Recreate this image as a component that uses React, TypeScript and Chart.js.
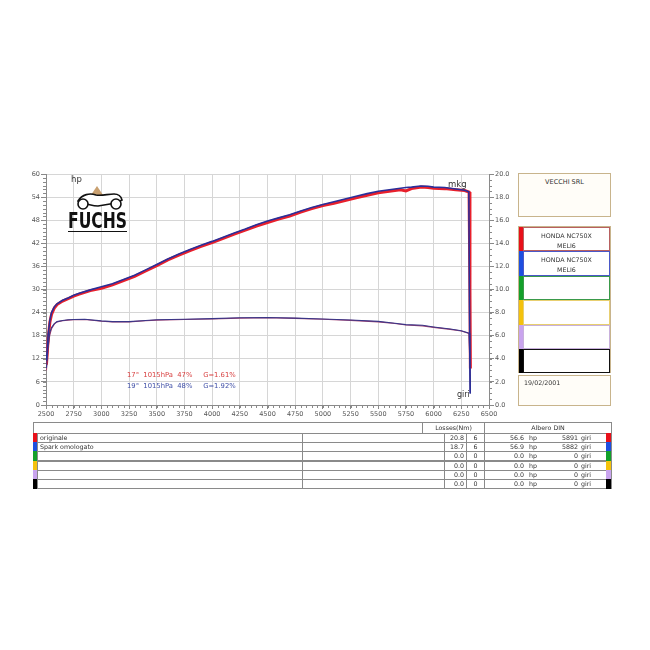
import React, { useEffect, useRef } from "react";
import { Chart, registerables } from "chart.js";

Chart.register(...registerables);

// ---------- DATA ----------
const rpmRed = [2504, 2510, 2520, 2535, 2550, 2575, 2600, 2650, 2700, 2750, 2800, 2900, 3000, 3100, 3200, 3300, 3400, 3500, 3600, 3700, 3800, 3900, 4000, 4100, 4200, 4300, 4400, 4500, 4600, 4700, 4800, 4900, 5000, 5100, 5200, 5300, 5400, 5500, 5600, 5700, 5750, 5800, 5891, 5950, 6000, 6100, 6200, 6280, 6320, 6328, 6332];
const hpRed = [10.5, 13.0, 17.5, 21.5, 23.5, 25.2, 26.1, 27.0, 27.6, 28.3, 28.8, 29.7, 30.3, 31.2, 32.3, 33.4, 34.8, 36.2, 37.7, 38.9, 40.1, 41.2, 42.2, 43.3, 44.4, 45.4, 46.5, 47.4, 48.3, 49.1, 50.1, 51.0, 51.8, 52.4, 53.1, 53.8, 54.5, 55.1, 55.5, 55.9, 55.6, 56.2, 56.6, 56.5, 56.3, 56.2, 55.9, 55.7, 55.3, 30.0, 9.5];

const rpmBlue = [2504, 2510, 2520, 2535, 2550, 2575, 2600, 2650, 2700, 2750, 2800, 2900, 3000, 3100, 3200, 3300, 3400, 3500, 3600, 3700, 3800, 3900, 4000, 4100, 4200, 4300, 4400, 4500, 4600, 4700, 4800, 4900, 5000, 5100, 5200, 5300, 5400, 5500, 5600, 5700, 5750, 5800, 5882, 5950, 6000, 6100, 6200, 6280, 6318, 6324, 6330];
const hpBlue = [11.5, 14.0, 18.5, 22.0, 24.0, 25.5, 26.3, 27.2, 27.8, 28.5, 29.0, 29.9, 30.7, 31.5, 32.6, 33.7, 35.1, 36.5, 37.9, 39.2, 40.4, 41.5, 42.5, 43.6, 44.7, 45.7, 46.8, 47.8, 48.6, 49.4, 50.4, 51.3, 52.1, 52.8, 53.5, 54.2, 54.9, 55.5, 55.9, 56.3, 56.5, 56.6, 56.9, 56.8, 56.6, 56.5, 56.1, 55.8, 55.4, 25.0, 3.0];

const rpmTorque = [2504, 2520, 2535, 2550, 2575, 2600, 2650, 2700, 2750, 2850, 3000, 3100, 3250, 3400, 3500, 3750, 4000, 4250, 4500, 4750, 5000, 5250, 5500, 5650, 5750, 5900, 6000, 6150, 6250, 6320, 6328, 6332];
const mkgRed = [3.0, 5.0, 6.1, 6.6, 7.0, 7.2, 7.3, 7.35, 7.38, 7.4, 7.25, 7.2, 7.2, 7.3, 7.35, 7.4, 7.45, 7.52, 7.55, 7.5, 7.42, 7.33, 7.2, 7.05, 6.92, 6.85, 6.72, 6.55, 6.4, 6.2, 3.5, 1.2];
const mkgBlue = [3.2, 5.2, 6.3, 6.7, 7.05, 7.22, 7.32, 7.38, 7.4, 7.42, 7.28, 7.22, 7.22, 7.32, 7.38, 7.43, 7.48, 7.55, 7.57, 7.52, 7.45, 7.36, 7.24, 7.08, 6.96, 6.9, 6.76, 6.58, 6.43, 6.22, 3.0, 1.0];

const xMin = 2500;
const xMax = 6500;
const xStep = 250;
const hpMax = 60;
const hpStep = 6;
const mkgMax = 20;
const mkgStep = 2;

const conditionRed = "17°  1015hPa  47%     G=1.61%";
const conditionBlue = "19°  1015hPa  48%     G=1.92%";

const companyName = "VECCHI SRL";
const testDate = "19/02/2001";
const panelLine1 = ["HONDA NC750X", "HONDA NC750X", "", "", "", ""];
const panelLine2 = ["MELI6", "MELI6", "", "", "", ""];

const runColors = ["#e8101a", "#1e4fe0", "#13a02a", "#f4c20d", "#c9a4ee", "#000000"];
const panelBorders = ["#b86060", "#4a58c8", "#3a9a4a", "#e8cf70", "#c8b0dc", "#111111"];
const runNames = ["originale", "Spark omologato", "", "", "", ""];
const lossNm = ["20.8", "18.7", "0.0", "0.0", "0.0", "0.0"];
const lossN = ["6", "6", "0", "0", "0", "0"];
const peakHp = ["56.6", "56.9", "0.0", "0.0", "0.0", "0.0"];
const peakRpm = ["5891", "5882", "0", "0", "0", "0"];

const FONT = "'DejaVu Sans', Verdana, sans-serif";

const minorTicks = {
  id: "minorTicks",
  afterDraw(chart: any) {
    const { ctx, chartArea, scales } = chart;
    ctx.save();
    ctx.strokeStyle = "#8a8a8a";
    ctx.lineWidth = 1;
    ctx.beginPath();
    for (let v = xMin; v <= xMax; v += 50) {
      const px = Math.round(scales.x.getPixelForValue(v)) + 0.5;
      ctx.moveTo(px, chartArea.bottom);
      ctx.lineTo(px, chartArea.bottom + 3);
    }
    for (let v = 0; v <= hpMax; v += 1) {
      const py = Math.round(scales.y.getPixelForValue(v)) + 0.5;
      ctx.moveTo(chartArea.left - 3, py);
      ctx.lineTo(chartArea.left, py);
    }
    for (let v = 0; v <= mkgMax; v += 0.5) {
      const py = Math.round(scales.y2.getPixelForValue(v)) + 0.5;
      ctx.moveTo(chartArea.right, py);
      ctx.lineTo(chartArea.right + 3, py);
    }
    ctx.stroke();
    ctx.restore();
  },
};

function toPts(xs: number[], ys: number[]) {
  return xs.map((x, i) => ({ x, y: ys[i] }));
}

function DynoChart() {
  const ref = useRef<HTMLCanvasElement | null>(null);
  useEffect(() => {
    if (!ref.current) return;
    const tickFont = { family: FONT, size: 6.5 };
    const chart = new Chart(ref.current, {
      type: "line",
      data: {
        datasets: [
          {
            data: toPts(rpmBlue, hpBlue),
            borderColor: "#2a2f9a",
            borderWidth: 1.6,
            yAxisID: "y",
            order: 0,
          },
          {
            data: toPts(rpmRed, hpRed),
            borderColor: "#e8202c",
            borderWidth: 3,
            yAxisID: "y",
            order: 2,
          },
          {
            data: toPts(rpmTorque, mkgBlue),
            borderColor: "#3a3688",
            borderWidth: 1.1,
            yAxisID: "y2",
            order: 1,
          },
          {
            data: toPts(rpmTorque, mkgRed),
            borderColor: "#a04070",
            borderWidth: 1.1,
            yAxisID: "y2",
            order: 3,
          },
        ],
      },
      options: {
        animation: false,
        responsive: false,
        maintainAspectRatio: false,
        parsing: true,
        elements: { point: { radius: 0 }, line: { tension: 0 } },
        layout: { padding: { left: 26, right: 131, top: 174, bottom: 227 } },
        plugins: { legend: { display: false }, tooltip: { enabled: false } },
        scales: {
          x: {
            type: "linear",
            min: xMin,
            max: xMax,
            afterFit: (s: any) => { s.height = 18; },
            ticks: { stepSize: xStep, font: tickFont, color: "#555", maxRotation: 0, padding: 1, autoSkip: false, callback: (v: any) => String(v) },
            grid: { color: "#d6d6d6", tickLength: 4, tickColor: "#888" },
            border: { color: "#8a8a8a" },
          },
          y: {
            type: "linear",
            position: "left",
            min: 0,
            max: hpMax,
            afterFit: (s: any) => { s.width = 20; },
            ticks: { stepSize: hpStep, font: tickFont, color: "#555", padding: 1 },
            grid: { color: "#d6d6d6", tickLength: 5, tickColor: "#888" },
            border: { color: "#8a8a8a" },
          },
          y2: {
            type: "linear",
            position: "right",
            min: 0,
            max: mkgMax,
            afterFit: (s: any) => { s.width = 30; },
            ticks: { stepSize: mkgStep, font: tickFont, color: "#555", padding: 1, callback: (v: any) => Number(v).toFixed(1) },
            grid: { drawOnChartArea: false, tickLength: 5, tickColor: "#888" },
            border: { color: "#8a8a8a" },
          },
        },
      },
      plugins: [minorTicks],
    } as any);
    return () => chart.destroy();
  }, []);
  return <canvas ref={ref} width={650} height={650} style={{ position: "absolute", left: 0, top: 0, width: 650, height: 650 }} />;
}

const abs = (l: number, t: number, w: number, h: number, extra: React.CSSProperties = {}): React.CSSProperties => ({
  position: "absolute", left: l, top: t, width: w, height: h, boxSizing: "border-box", ...extra,
});

function Logo() {
  return (
    <svg style={{ position: "absolute", left: 64, top: 182, width: 70, height: 54 }} viewBox="0 0 70 54">
      <path d="M27 13 L33 4 L39 13 Z" fill="#c9a070" />
      <path d="M14 19 C18 12 26 11 32 13 C38 14 44 12 50 12 C54 12 57 14 58 18 L52 21 C46 22 40 23 34 24 C28 24 22 22 14 19 Z" fill="#fff" stroke="#111" strokeWidth="1.6" />
      <circle cx="19" cy="22" r="5" fill="#fff" stroke="#111" strokeWidth="1.6" />
      <circle cx="52" cy="22" r="5" fill="#fff" stroke="#111" strokeWidth="1.6" />
      <text x="4" y="46" fontFamily="'Liberation Sans Narrow', 'DejaVu Sans Condensed', 'Liberation Sans', sans-serif" fontWeight="bold" fontSize="22" fill="#111" textLength="59" lengthAdjust="spacingAndGlyphs">FUCHS</text>
      <line x1="4" y1="49.5" x2="63" y2="49.5" stroke="#111" strokeWidth="1.2" />
    </svg>
  );
}

function RightPanel() {
  const rowH = 24.4;
  const top = 226;
  return (
    <>
      <div style={abs(518, 173, 93, 44, { border: "1px solid #c8b48c", background: "#fffdf8" })}>
        <div style={{ textAlign: "center", fontSize: 6.5, color: "#333", marginTop: 4 }}>{companyName}</div>
      </div>
      <div style={abs(518, top, 93, 147, { border: "1px solid #c8b48c", background: "#fff" })} />
      {runColors.map((c, i) => (
        <React.Fragment key={i}>
          <div style={abs(519, top + 1 + i * rowH, 5, rowH, { background: c })} />
          <div style={abs(523, top + 1 + i * rowH, 87, rowH, { border: `1.5px solid ${panelBorders[i]}` })}>
            <div style={{ textAlign: "center", fontSize: 6.3, color: "#333", marginTop: 2, lineHeight: "11px" }}>{panelLine1[i]}</div>
            <div style={{ textAlign: "center", fontSize: 6.3, color: "#333", lineHeight: "9px" }}>{panelLine2[i]}</div>
          </div>
        </React.Fragment>
      ))}
      <div style={abs(518, 375, 93, 31, { border: "1px solid #c8b48c", background: "#fffdf8" })}>
        <div style={{ fontSize: 6.3, color: "#333", marginLeft: 5, marginTop: 3 }}>{testDate}</div>
      </div>
    </>
  );
}

function Table() {
  const top = 433;
  const rh = 9.17;
  const line = "1px solid #8a8a8a";
  const txt: React.CSSProperties = { fontSize: 6.3, color: "#333", lineHeight: `${rh}px`, whiteSpace: "nowrap" };
  return (
    <>
      <div style={abs(33, 422, 390, 12, { borderTop: line, borderLeft: line })} />
      <div style={abs(422, 422, 63, 12, { border: line, ...txt, lineHeight: "10px", textAlign: "center" })}>Losses(Nm)</div>
      <div style={abs(484, 422, 128, 12, { border: line, ...txt, lineHeight: "10px", textAlign: "center" })}>Albero DIN</div>
      {runColors.map((c, i) => {
        const y = top + i * rh;
        return (
          <React.Fragment key={i}>
            <div style={abs(33, y, 5, rh + 1, { background: c })} />
            <div style={abs(37, y, 266, rh + 1, { border: line, ...txt, paddingLeft: 2, lineHeight: `${rh - 1}px` })}>{runNames[i]}</div>
            <div style={abs(302, y, 143, rh + 1, { borderTop: line, borderBottom: line })} />
            <div style={abs(444, y, 23, rh + 1, { border: line, ...txt, lineHeight: `${rh - 1}px`, textAlign: "right", paddingRight: 2 })}>{lossNm[i]}</div>
            <div style={abs(466, y, 19, rh + 1, { border: line, ...txt, lineHeight: `${rh - 1}px`, textAlign: "center" })}>{lossN[i]}</div>
            <div style={abs(484, y, 123, rh + 1, { borderTop: line, borderBottom: line, borderLeft: line })} />
            <div style={abs(490, y, 34, rh, { ...txt, textAlign: "right" })}>{peakHp[i]}</div>
            <div style={abs(529, y, 14, rh, { ...txt })}>hp</div>
            <div style={abs(545, y, 33, rh, { ...txt, textAlign: "right" })}>{peakRpm[i]}</div>
            <div style={abs(581, y, 20, rh, { ...txt })}>giri</div>
            <div style={abs(606, y, 6, rh + 1, { background: c })} />
          </React.Fragment>
        );
      })}
      <div style={abs(611, 433, 1, 56, { background: "#8a8a8a" })} />
    </>
  );
}

export default function App() {
  return (
    <div style={{ position: "absolute", left: 0, top: 0, width: 650, height: 650, background: "#fff", fontFamily: FONT }}>
      <DynoChart />
      <Logo />
      <div style={{ position: "absolute", left: 71, top: 174, fontSize: 8.5, color: "#333" }}>hp</div>
      <div style={{ position: "absolute", left: 448, top: 179, fontSize: 8.5, color: "#333" }}>mkg</div>
      <div style={{ position: "absolute", left: 457, top: 390, fontSize: 8, color: "#333" }}>giri</div>
      <div style={{ position: "absolute", left: 127, top: 371, fontSize: 6.8, color: "#d84040", whiteSpace: "pre" }}>{conditionRed}</div>
      <div style={{ position: "absolute", left: 127, top: 382, fontSize: 6.8, color: "#4050a8", whiteSpace: "pre" }}>{conditionBlue}</div>
      <RightPanel />
      <Table />
    </div>
  );
}
